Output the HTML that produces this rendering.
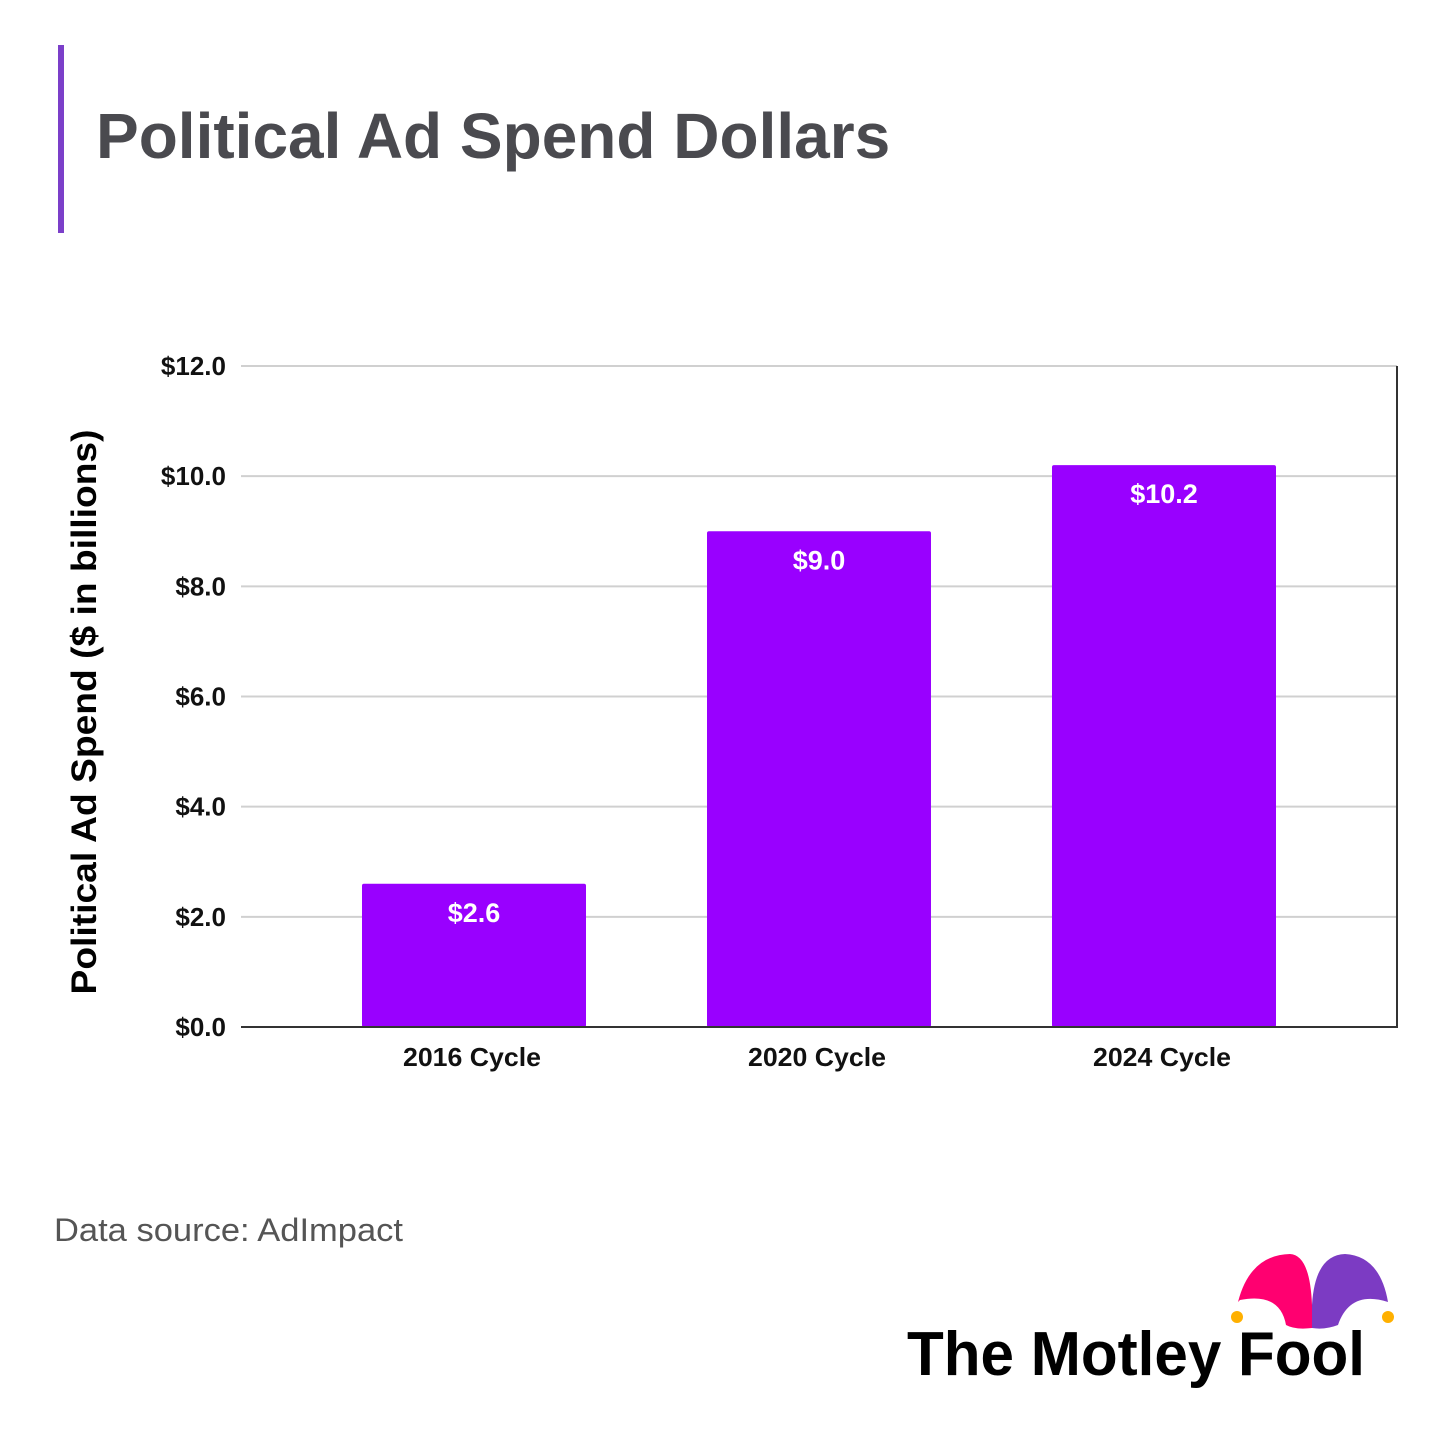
<!DOCTYPE html>
<html><head><meta charset="utf-8"><style>
body{margin:0;background:#fff;width:1440px;height:1440px;overflow:hidden;font-family:"Liberation Sans",sans-serif}
</style></head><body>
<svg width="1440" height="1440" xmlns="http://www.w3.org/2000/svg" id="chart">
<rect x="58" y="45" width="6" height="188" fill="#7b3fc9"/>
<text x="96" y="158" font-size="64" font-weight="bold" fill="#4a4a4f">Political Ad Spend Dollars</text>
<g id="grid"></g>
<g id="bars"></g>
<text transform="translate(96,712) rotate(-90)" text-anchor="middle" font-size="35" font-weight="bold" fill="#000" textLength="565" lengthAdjust="spacingAndGlyphs">Political Ad Spend ($ in billions)</text>
<text x="54" y="1241" font-size="32" fill="#555" textLength="349" lengthAdjust="spacingAndGlyphs">Data source: AdImpact</text>
<g>
<path d="M1238,1302 Q1250,1255 1290,1254 Q1310,1255 1312,1305 L1312,1328 Q1295,1330 1286,1325 Q1280,1292 1240,1300 Z" fill="#ff0070"/>
<path d="M1312,1305 Q1315,1255 1345,1254 Q1380,1256 1388,1302 Q1350,1290 1338,1325 Q1325,1330 1312,1328 Z" fill="#7c3bc3"/>
<circle cx="1237" cy="1317" r="6" fill="#ffb000"/>
<circle cx="1388" cy="1317" r="6" fill="#ffb000"/>
<text x="907" y="1375" font-size="62" font-weight="bold" fill="#000" textLength="458" lengthAdjust="spacingAndGlyphs">The Motley Fool</text>
</g>
</svg>
<script>
const categories=["2016 Cycle","2020 Cycle","2024 Cycle"];
const values=[2.6,9.0,10.2];
const valueLabels=["$2.6","$9.0","$10.2"];
const ticks=[0,2,4,6,8,10,12];
const tickLabels=["$0.0","$2.0","$4.0","$6.0","$8.0","$10.0","$12.0"];
const NS="http://www.w3.org/2000/svg";
const y0=1027,y1=366,yMax=12;
const y=v=>y0-(v/yMax)*(y0-y1);
const bandStart=301.5,step=345,bw=224;
const xc=i=>bandStart+step*(i+0.5);
function mk(tag,attrs,parent){const e=document.createElementNS(NS,tag);for(const k in attrs)e.setAttribute(k,attrs[k]);parent.appendChild(e);return e;}
const grid=document.getElementById('grid'),bars=document.getElementById('bars');
ticks.forEach((t,i)=>{
  if(t>0){const l=mk('line',{x1:241,x2:1397,y1:y(t),y2:y(t),stroke:'#d0d0d0','stroke-width':2},grid);
  
  }
  const tx=mk('text',{x:226,y:y(t)+9,'text-anchor':'end','font-size':26,'font-weight':'bold',fill:'#111'},grid);
  tx.textContent=tickLabels[i];
  
  
});
values.forEach((v,i)=>{
  const r=mk('rect',{x:xc(i)-bw/2,y:y(v),width:bw,height:y0-y(v),fill:'#9900ff',rx:2},bars);
  
  
  const t=mk('text',{x:xc(i),y:y(v)+38,'text-anchor':'middle','font-size':27,'font-weight':'bold',fill:'#fff'},bars);
  t.textContent=valueLabels[i];
  
  
  const c=mk('text',{x:xc(i)-2,y:1066,'text-anchor':'middle','font-size':26,'font-weight':'bold',fill:'#111',textLength:138,lengthAdjust:'spacingAndGlyphs'},bars);
  c.textContent=categories[i];
  
  
});
const ax=mk('line',{x1:241,x2:1398,y1:y0,y2:y0,stroke:'#333','stroke-width':2},bars);


const rax=mk('line',{x1:1397,x2:1397,y1:y1,y2:y0,stroke:'#333','stroke-width':2},bars);


</script>
</body></html>
